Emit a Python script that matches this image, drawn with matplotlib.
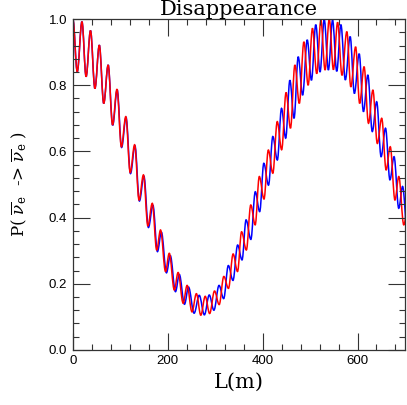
import matplotlib
matplotlib.use("Agg")
import matplotlib.pyplot as plt
from matplotlib.path import Path
from matplotlib.patches import PathPatch
from matplotlib.ticker import MultipleLocator

# turning points (peaks and troughs) of the fast oscillation
red_L = [0, 9.3, 19.2, 27.9, 37.2, 46.5, 55.8, 65.1, 74.4, 83.7,
         93.0, 102.3, 111.6, 120.9, 130.2, 139.5, 148.8, 158.1, 167.4, 176.7,
         184.8, 195.3, 203.2, 213.9, 221.8, 232.5, 240.8, 251.1, 260.4, 269.7,
         279.0, 288.3, 298.6, 308.4, 318.2, 328.0, 337.8, 347.1, 355.6, 365.7,
         375.0, 384.3, 393.0, 402.9, 412.0, 421.5, 430.8, 440.1, 449.4, 458.7,
         468.0, 477.3, 487.0, 495.9, 505.0, 514.0, 522.8, 531.6, 540.4, 549.2,
         558.0, 567.3, 577.5, 585.9, 596.0, 604.5, 613.8, 623.1, 632.4, 641.7,
         651.0, 660.3, 669.0, 678.9, 687.0, 697.5, 706.8]
red_P = [1.0, 0.841, 0.992, 0.826, 0.965, 0.790, 0.921, 0.745, 0.861, 0.680,
         0.788, 0.614, 0.705, 0.536, 0.620, 0.453, 0.529, 0.375, 0.443, 0.302,
         0.3625, 0.237, 0.292, 0.181, 0.234, 0.141, 0.195, 0.115, 0.170, 0.105,
         0.162, 0.110, 0.178, 0.137, 0.222, 0.186, 0.290, 0.237, 0.357, 0.302,
         0.438, 0.378, 0.524, 0.456, 0.604, 0.534, 0.690, 0.605, 0.778, 0.670,
         0.861, 0.745, 0.931, 0.800, 0.972, 0.835, 0.996, 0.846, 1.0, 0.847,
         0.990, 0.830, 0.962, 0.795, 0.916, 0.745, 0.856, 0.685, 0.785, 0.624,
         0.700, 0.544, 0.614, 0.453, 0.524, 0.378, 0.440]

blue_L = [0, 9.3, 19.2, 27.9, 37.2, 46.5, 55.8, 65.1, 74.4, 84.0,
          93.4, 102.8, 112.1, 121.5, 130.9, 140.3, 149.8, 159.3, 168.8, 178.3,
          186.6, 197.3, 205.4, 216.3, 224.4, 235.3, 243.8, 255.6, 266.4, 277.2,
          287.5, 297.3, 308.1, 317.9, 327.7, 337.5, 347.3, 356.6, 365.1, 375.2,
          384.5, 393.8, 402.5, 412.4, 421.5, 431.0, 439.8, 448.6, 457.4, 466.2,
          475.0, 484.3, 494.0, 502.9, 512.0, 521.0, 529.8, 538.6, 547.4, 556.2,
          565.0, 574.3, 584.5, 593.4, 603.5, 612.5, 621.8, 631.1, 640.4, 649.7,
          659.0, 668.3, 677.0, 686.9, 695.0, 705.5]
blue_P = [1.0, 0.841, 0.992, 0.826, 0.965, 0.790, 0.921, 0.745, 0.861, 0.679,
          0.786, 0.612, 0.703, 0.533, 0.617, 0.450, 0.525, 0.370, 0.437, 0.297,
          0.356, 0.233, 0.285, 0.176, 0.228, 0.138, 0.190, 0.111, 0.165, 0.106,
          0.166, 0.120, 0.195, 0.155, 0.255, 0.210, 0.317, 0.272, 0.393, 0.334,
          0.478, 0.418, 0.564, 0.498, 0.645, 0.574, 0.730, 0.640, 0.815, 0.700,
          0.886, 0.770, 0.937, 0.815, 0.983, 0.840, 0.999, 0.846, 0.997, 0.842,
          0.983, 0.816, 0.947, 0.775, 0.895, 0.720, 0.831, 0.660, 0.750, 0.584,
          0.670, 0.514, 0.584, 0.428, 0.494, 0.345]

x_ticks = [0, 200, 400, 600]
y_ticks = [0.0, 0.2, 0.4, 0.6, 0.8, 1.0]


def wave(ax, xs, ys, color):
    # join turning points with flat-topped bezier arcs (sine-like shape)
    verts = [(xs[0], ys[0])]
    codes = [Path.MOVETO]
    for i in range(1, len(xs)):
        d = 0.36 * (xs[i] - xs[i - 1])
        verts += [(xs[i - 1] + d, ys[i - 1]), (xs[i] - d, ys[i]), (xs[i], ys[i])]
        codes += [Path.CURVE4] * 3
    ax.add_patch(PathPatch(Path(verts, codes), fill=False, edgecolor=color,
                           lw=1.1))


plt.rcParams["mathtext.fontset"] = "dejavuserif"

fig = plt.figure(figsize=(4.07, 4.05), dpi=100)
ax = fig.add_axes([0.179, 0.136, 0.816, 0.817])

wave(ax, blue_L, blue_P, "blue")
wave(ax, red_L, red_P, "red")

ax.set_xlim(0, 700)
ax.set_ylim(0, 1)
ax.set_xticks(x_ticks)
ax.set_yticks(y_ticks)
ax.set_yticklabels(["%.1f" % v for v in y_ticks])
ax.xaxis.set_minor_locator(MultipleLocator(40))
ax.yaxis.set_minor_locator(MultipleLocator(0.04))
ax.tick_params(which="both", direction="in", top=True, right=True,
               width=0.8, colors="#333333", labelcolor="black")
ax.tick_params(which="major", length=12, labelsize=9.5, pad=4)
ax.tick_params(which="minor", length=4.5)
for lab in ax.get_xticklabels() + ax.get_yticklabels():
    lab.set_family("Liberation Sans")
for s in ax.spines.values():
    s.set_linewidth(0.9)
    s.set_color("#333333")

ax.set_title("Disappearance", family="DejaVu Serif", fontsize=15, pad=1)
ax.set_xlabel("L(m)", family="DejaVu Serif", fontsize=15, labelpad=4)
ax.set_ylabel(r"P( $\overline{\nu}_{\rm e}$  -> $\overline{\nu}_{\rm e}$ )",
              family="DejaVu Serif", fontsize=12, labelpad=14)

fig.savefig("out.png", dpi=100)
